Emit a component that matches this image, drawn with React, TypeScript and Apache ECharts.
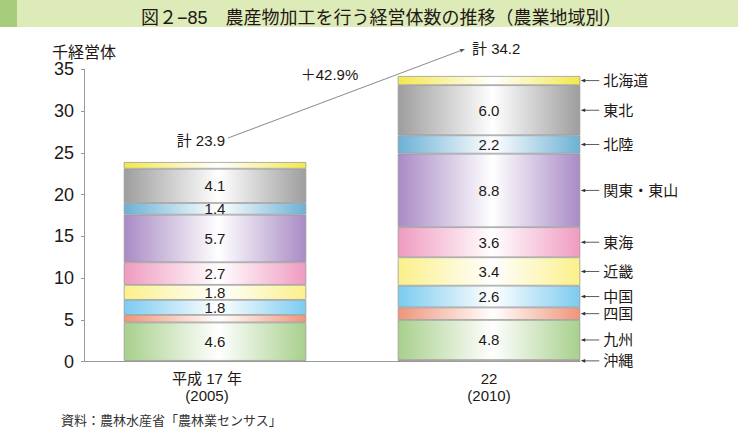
import React, { useEffect, useRef } from "react";
import * as echarts from "echarts";

const REGIONS = ["沖縄", "九州", "四国", "中国", "近畿", "東海", "関東・東山", "北陸", "東北", "北海道"];
const V2005 = [0.1, 4.6, 0.9, 1.8, 1.8, 2.7, 5.7, 1.4, 4.1, 0.8];
const V2010 = [0.2, 4.8, 1.5, 2.6, 3.4, 3.6, 8.8, 2.2, 6.0, 1.1];
const SHOW_LABEL = [false, true, false, true, true, true, true, true, true, false];
const COLORS = ["#b4553a", "#a8d08c", "#f0957a", "#7ccbf0", "#fbf08a", "#f09bc0", "#a98bc5", "#6cb1d5", "#9e9e9e", "#f4e84c"];
const CATEGORIES = ["平成 17 年\n(2005)", "22\n(2010)"];
const TOTALS = [23.9, 34.2];
const TOTAL_LABELS = ["計 23.9", "計 34.2"];
const GROWTH = "＋42.9%";
const Y_MIN = 0;
const Y_MAX = 35;
const Y_STEP = 5;

const TITLE = "図２−85　農産物加工を行う経営体数の推移（農業地域別）";
const SOURCE = "資料：農林水産省「農林業センサス」";
const UNIT = "千経営体";

const FONT = "'Liberation Sans', 'Noto Sans CJK JP', sans-serif";
const BAR_W = 182.5;
const TOP = 69.3;
const BOTTOM = 67.3;

export default function App() {
  const ref = useRef<HTMLDivElement>(null);
  useEffect(() => {
    const chart = echarts.init(ref.current!, null, { renderer: "svg" });

    const barSeries = REGIONS.map((name, i) => ({
      name,
      type: "bar",
      stack: "total",
      xAxisIndex: 0,
      yAxisIndex: 0,
      barWidth: BAR_W,
      data: [V2005[i], V2010[i]],
      itemStyle: {
        color: new echarts.graphic.LinearGradient(0, 0, 1, 0, [
          { offset: 0, color: COLORS[i] },
          { offset: 0.52, color: "#ffffff" },
          { offset: 1, color: COLORS[i] },
        ]),
        borderColor: "#9a9a9a",
        borderWidth: 0.8,
      },
      label: {
        show: SHOW_LABEL[i],
        position: "inside",
        formatter: (p: any) => Number(p.value).toFixed(1),
        fontSize: 15,
        color: "#231815",
        fontFamily: FONT,
      },
    }));

    // centers of 2010 segments for right-side region labels
    const centers: number[] = [];
    let acc = 0;
    V2010.forEach((v) => {
      centers.push(acc + v / 2);
      acc += v;
    });

    const regionLabelSeries = {
      type: "custom",
      xAxisIndex: 0,
      yAxisIndex: 0,
      clip: false,
      z: 10,
      data: centers.map((c) => [1, c]),
      renderItem: (params: any, api: any) => {
        const pt = api.coord([api.value(0), api.value(1)]);
        const xr = pt[0] + BAR_W / 2;
        const y = pt[1];
        return {
          type: "group",
          children: [
            { type: "line", shape: { x1: xr + 3, y1: y, x2: xr + 19, y2: y }, style: { stroke: "#333", lineWidth: 0.8 } },
            { type: "polygon", shape: { points: [[xr + 0.5, y], [xr + 5, y - 1.8], [xr + 5, y + 1.8]] }, style: { fill: "#333" } },
            {
              type: "text",
              x: xr + 23,
              y,
              style: { text: REGIONS[params.dataIndex], fontSize: 15, fontFamily: FONT, fill: "#231815", verticalAlign: "middle", align: "left" },
            },
          ],
        };
      },
    };

    const totalSeries = {
      type: "custom",
      xAxisIndex: 0,
      yAxisIndex: 0,
      clip: false,
      z: 10,
      data: TOTALS.map((t, i) => [i, t]),
      renderItem: (params: any, api: any) => {
        const i = params.dataIndex;
        const p = api.coord([api.value(0), api.value(1)]);
        if (i === 0) {
          const q = api.coord([1, TOTALS[1]]);
          const sx = p[0] + 13, sy = p[1] - 24;
          const ex = q[0] - 24, ey = q[1] - 27;
          const ang = Math.atan2(ey - sy, ex - sx);
          const ah = 5, aw = 1.8;
          const bx = ex - ah * Math.cos(ang), by = ey - ah * Math.sin(ang);
          const mx = (sx + ex) / 2, my = (sy + ey) / 2;
          return {
            type: "group",
            children: [
              { type: "line", shape: { x1: sx, y1: sy, x2: bx, y2: by }, style: { stroke: "#8a8a8a", lineWidth: 1 } },
              {
                type: "polygon",
                shape: {
                  points: [
                    [ex, ey],
                    [bx + aw * Math.sin(ang), by - aw * Math.cos(ang)],
                    [bx - aw * Math.sin(ang), by + aw * Math.cos(ang)],
                  ],
                },
                style: { fill: "#555" },
              },
              {
                type: "text",
                x: p[0] + 10,
                y: p[1] - 22,
                style: { text: TOTAL_LABELS[0], fontSize: 15, fontFamily: FONT, fill: "#231815", align: "right", verticalAlign: "middle" },
              },
              {
                type: "text",
                x: mx - 17,
                y: my - 19,
                style: { text: GROWTH, fontSize: 15, fontFamily: FONT, fill: "#231815", align: "center", verticalAlign: "middle" },
              },
            ],
          };
        }
        return {
          type: "text",
          x: p[0] - 17,
          y: p[1] - 27,
          style: { text: TOTAL_LABELS[1], fontSize: 15, fontFamily: FONT, fill: "#231815", align: "left", verticalAlign: "middle" },
        };
      },
    };

    chart.setOption({
      animation: false,
      backgroundColor: "#ffffff",
      title: {
        text: TITLE,
        left: 136,
        top: 4,
        textStyle: { fontSize: 18, fontWeight: "normal", color: "#231815", fontFamily: FONT },
      },
      graphic: [
        { type: "rect", left: 0, top: 0, shape: { width: 738, height: 27 }, style: { fill: "#dcebb8" }, z: -10 },
        { type: "rect", left: 0, top: 0, shape: { width: 17, height: 27 }, style: { fill: "#a5cd7c" }, z: -9 },
        {
          type: "text",
          left: 61,
          top: 413,
          style: { text: SOURCE, fontSize: 13, fill: "#333", fontFamily: "'Noto Sans CJK JP', sans-serif" },
        },
      ],
      grid: [
        { left: 78, right: 112, top: TOP, bottom: BOTTOM },
        { left: 84, right: 158, top: TOP, bottom: BOTTOM },
      ],
      xAxis: [
        {
          type: "category",
          gridIndex: 0,
          data: [
            { value: CATEGORIES[0], textStyle: { padding: [0, 16, 0, 0] } },
            { value: CATEGORIES[1] },
          ],
          axisLine: { show: false },
          axisTick: { show: false },
          axisLabel: { fontSize: 15, lineHeight: 17, color: "#231815", fontFamily: FONT, margin: 8 },
        },
        {
          type: "category",
          gridIndex: 1,
          data: ["", ""],
          axisLine: { show: true, lineStyle: { color: "#999", width: 1 } },
          axisTick: { show: false },
          axisLabel: { show: false },
        },
      ],
      yAxis: [
        { type: "value", gridIndex: 0, min: Y_MIN, max: Y_MAX, interval: Y_STEP, show: false },
        {
          type: "value",
          gridIndex: 1,
          min: Y_MIN,
          max: Y_MAX,
          interval: Y_STEP,
          name: UNIT,
          nameLocation: "end",
          nameGap: 9,
          nameTextStyle: { fontSize: 16, color: "#231815", fontFamily: FONT, align: "center" },
          axisLine: { show: true, lineStyle: { color: "#999", width: 1 } },
          axisTick: { show: true, length: 3, lineStyle: { color: "#999" } },
          axisLabel: { fontSize: 18, color: "#231815", fontFamily: FONT, margin: 10, padding: [4, 0, 0, 0] },
          splitLine: { show: false },
        },
      ],
      series: [...barSeries, regionLabelSeries, totalSeries],
    });
    return () => chart.dispose();
  }, []);
  return <div ref={ref} style={{ position: "fixed", left: 0, top: 0, width: 738, height: 429 }} />;
}
